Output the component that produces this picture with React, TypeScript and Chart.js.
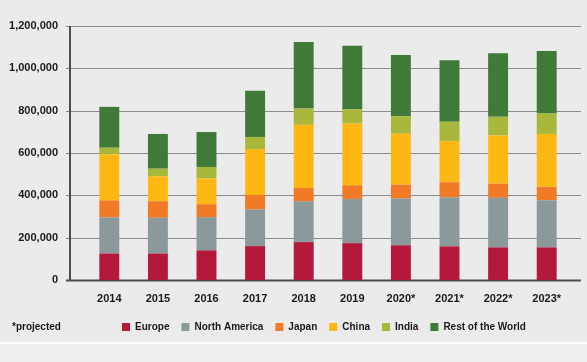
import React, { useEffect, useRef } from "react";
import { Chart, registerables } from "chart.js";

Chart.register(...registerables);

const years = ["2014", "2015", "2016", "2017", "2018", "2019", "2020*", "2021*", "2022*", "2023*"];
const europe = [125000, 125000, 140000, 160000, 179000, 174000, 164000, 159000, 154000, 154000];
const northAmerica = [171000, 169000, 157000, 173000, 193000, 209000, 221000, 232000, 234000, 223000];
const japan = [80000, 78000, 61000, 69000, 63000, 64000, 66000, 71000, 67000, 63000];
const china = [218000, 118000, 122000, 217000, 298000, 292000, 240000, 195000, 228000, 250000];
const india = [31000, 36000, 54000, 57000, 77000, 68000, 83000, 91000, 88000, 97000];
const restOfWorld = [193000, 164000, 165000, 218000, 314000, 300000, 289000, 290000, 300000, 295000];
const yTicks = [0, 200000, 400000, 600000, 800000, 1000000, 1200000];

const FONT = "'Liberation Sans', Arial, sans-serif";

const framePlugin = {
  id: "frame",
  afterLayout(chart: any) {
    const lg = chart.legend;
    if (lg) {
      lg.left -= 4;
      lg.right -= 4;
    }
  },
  beforeDatasetsDraw(chart: any) {
    const ctx = chart.ctx;
    const y = chart.scales.y;
    const area = chart.chartArea;
    const left = area.left - 19;
    const right = area.right + 10;
    ctx.save();
    yTicks.forEach((v) => {
      const py = Math.round(y.getPixelForValue(v)) + 0.5;
      ctx.beginPath();
      ctx.strokeStyle = v === 0 ? "#4d4d4d" : "#8c8c8c";
      ctx.lineWidth = v === 0 ? 2 : 1;
      ctx.moveTo(left, py);
      ctx.lineTo(right, py);
      ctx.stroke();
    });
    const ax = area.left - 15;
    ctx.beginPath();
    ctx.strokeStyle = "#4d4d4d";
    ctx.lineWidth = 2;
    ctx.moveTo(ax, y.getPixelForValue(1200000));
    ctx.lineTo(ax, y.getPixelForValue(0) + 1);
    ctx.stroke();
    ctx.restore();
  },
  afterDraw(chart: any) {
    const ctx = chart.ctx;
    const lg = chart.legend;
    ctx.save();
    ctx.fillStyle = "#1a1a1a";
    ctx.font = "bold 10px " + FONT;
    ctx.textAlign = "left";
    ctx.textBaseline = "middle";
    const item = lg && lg.legendHitBoxes && lg.legendHitBoxes[0];
    const cy = item ? item.top + item.height / 2 : 325;
    ctx.fillText("*projected", 12, cy);
    ctx.restore();
  },
};

export default function App() {
  const ref = useRef<HTMLCanvasElement | null>(null);
  useEffect(() => {
    if (!ref.current) return;
    const mk = (label: string, data: number[], color: string) => ({
      label,
      data,
      backgroundColor: color,
      borderWidth: 0,
      barPercentage: 0.41,
      categoryPercentage: 1,
    });
    const chart = new Chart(ref.current, {
      type: "bar",
      data: {
        labels: years,
        datasets: [
          mk("Europe", europe, "#b4183b"),
          mk("North America", northAmerica, "#8b999b"),
          mk("Japan", japan, "#f07a25"),
          mk("China", china, "#fdb813"),
          mk("India", india, "#a8b83c"),
          mk("Rest of the World", restOfWorld, "#3f7a38"),
        ],
      },
      options: {
        animation: false,
        responsive: false,
        layout: { padding: { top: 26, right: 16, bottom: 0, left: 0 } },
        plugins: {
          tooltip: { enabled: false },
          legend: {
            position: "bottom",
            fullSize: false,
            labels: {
              boxWidth: 8,
              boxHeight: 8,
              padding: 12,
              color: "#1a1a1a",
              font: { family: FONT, size: 10, weight: "bold" },
            },
          },
        },
        scales: {
          x: {
            stacked: true,
            grid: { display: false, drawTicks: false },
            border: { display: false },
            ticks: {
              padding: 12,
              color: "#1a1a1a",
              font: { family: FONT, size: 11, weight: "bold" },
            },
            afterFit(scale: any) {
              scale.height = 30;
            },
          },
          y: {
            stacked: true,
            min: 0,
            max: 1200000,
            grid: { display: false, drawTicks: false },
            border: { display: false },
            ticks: {
              stepSize: 200000,
              padding: 27,
              color: "#1a1a1a",
              font: { family: FONT, size: 11, weight: "bold" },
              callback: (v: any) => Number(v).toLocaleString("en-US"),
            },
            afterFit(scale: any) {
              scale.width = 85;
              scale.paddingTop = 0;
              scale.paddingBottom = 0;
            },
          },
        },
      },
      plugins: [framePlugin],
    });
    return () => chart.destroy();
  }, []);
  return (
    <div style={{ position: "absolute", left: 0, top: 0, width: 587, height: 362, background: "#ebebeb", overflow: "hidden" }}>
      <canvas ref={ref} width={587} height={342} style={{ display: "block", width: 587, height: 342 }} />
      <div style={{ height: 2, background: "#ffffff" }} />
      <div style={{ height: 18, background: "#efefef" }} />
    </div>
  );
}
